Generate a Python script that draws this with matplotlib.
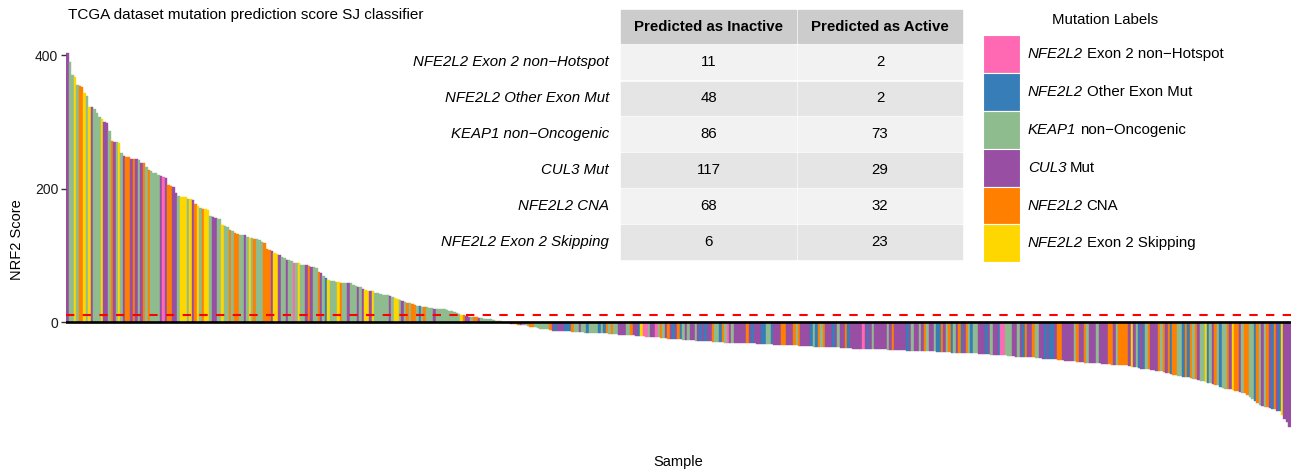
import matplotlib
matplotlib.use("Agg")
import matplotlib.pyplot as plt
from matplotlib.patches import Rectangle

plt.rcParams["font.family"] = ["Liberation Sans", "DejaVu Sans"]

W, H = 1293, 473

# --- data: NRF2 score per sample, sorted ---
scores_pos = [
    404, 390, 370, 367, 355, 354, 353, 343, 339, 323,
    323, 320, 313, 308, 304, 300, 299, 286, 271, 270,
    270, 268, 253, 249, 248, 247, 245, 245, 244, 243,
    239, 238, 233, 228, 227, 224, 223, 221, 219, 218,
    216, 205, 204, 203, 193, 189, 188, 188, 187, 185,
    184, 183, 177, 174, 171, 170, 169, 168, 159, 158,
    156, 155, 155, 145, 144, 143, 138, 136, 133, 132,
    130, 130, 130, 127, 126, 126, 125, 125, 123, 120,
    118, 110, 108, 106, 103, 102, 101, 97, 96, 93,
    93, 91, 89, 89, 88, 86, 85, 85, 84, 83,
    83, 81, 75, 73, 69, 66, 63, 62, 61, 60,
    60, 59, 59, 59, 58, 58, 56, 54, 53, 52,
    50, 48, 47, 47, 46, 44, 43, 42, 41, 40,
    40, 39, 38, 36, 35, 33, 31, 30, 29, 28,
    27, 26, 24, 24, 23, 23, 22, 21, 21, 20,
    20, 19, 19, 19, 18, 17, 16, 15, 14, 12,
    11, 10, 9, 8, 7, 7, 7, 6, 6, 5,
    5, 4,
]
scores_mid1 = [
    4, 3, 2, 2, 1, -1, -1, -2,
    -3, -3, -3, -4, -4, -4, -5, -6, -7, -7, -8,
    -9, -10, -10, -10, -11, -12, -13, -13, -13, -14,
    -14, -14, -14, -14, -15, -15, -15, -15, -15, -16,
    -16, -16, -16, -16, -17, -17, -17, -17, -17, -18,
    -18, -18, -18, -19, -19, -19, -20, -20, -20, -20,
    -21, -21, -21, -21, -22, -22, -22, -23, -23, -23,
    -24, -24, -24, -25, -25, -25, -26, -26, -26, -27, -27, -27,
]
scores_mid2 = [
    -27, -27, -28, -28, -28, -29, -29, -29, -29, -30,
    -30, -30, -30, -30, -31, -31, -31, -31, -31, -31,
    -32, -32, -32, -32, -32, -32, -32, -33, -33, -33,
    -33, -33, -33, -33, -34, -34, -34, -34, -34, -35,
    -35, -35, -35, -35, -36, -36, -36, -36, -36, -36,
    -37, -37, -37, -37, -37, -38, -38, -38, -38, -38,
    -38, -39, -39, -39, -39, -39, -40, -40, -40, -40,
    -40, -40, -41, -41, -41, -41, -41, -41, -41, -41, -42, -42,
]
scores_mid3 = [
    -42, -42, -42, -42, -42, -42, -43, -43, -43, -43,
    -43, -43, -43, -44, -44, -44, -44, -44, -45, -45,
    -45, -45, -45, -45, -46, -46, -46, -46, -46, -46,
    -47, -47, -47, -47, -47, -48, -48, -48, -48, -48,
    -49, -49, -49, -49, -50, -50, -50, -51, -51, -51,
    -52, -52, -52, -52, -53, -53, -53, -53, -54, -54,
    -54, -55, -55, -55, -56, -56, -56, -57, -57, -57,
    -58, -58, -59, -59, -59, -60, -60, -60, -61, -61, -61,
]
scores_tail = [
    -61, -62, -62, -62, -63, -63, -63, -63, -64, -64, -64, -64, -64, -65,
    -65, -66, -67, -67, -68, -69, -70, -70, -71, -71, -72, -72, -73, -73,
    -74, -75, -76, -77, -78, -79, -80, -81, -81, -82, -83, -83, -84,
    -85, -86, -87, -88, -89, -90, -91, -92, -93, -94, -95, -97, -99, -100,
    -101, -101, -102, -103, -104, -105, -106, -107, -110, -113, -116, -119, -122,
    -124, -126, -127, -128, -129, -130, -131, -133, -134, -140, -145, -150, -157,
]

# mutation label per bar: P pink, B blue, G KEAP1, U CUL3, O CNA, Y skipping
labels_pos = ("UGGYGOOYGY" "UGGGYUUGOU" "GYGUOOUOUG" "UOGOGGGGUP" "UOOUUGYYYG"
              "YUOYGOYYGU" "UGGYGGOGOO" "GGUGYGOGGG" "OOOUYYUGGU" "GGPGYGGUOU"
              "GGOUGBYGGG" "YOGGUGGGUG" "UYYUYGGGGG" "GUGYYGUGOG" "OOGBGOGGGU"
              "GGGGGGGGGG" "YOUUGOOUGG" "GG")
labels_mid1 = ("GGGOGGGG" "UOOOBPGGOO" "GGGGGGOUBU" "UUBBBOGGUG" "GBGGGGBGBO"
               "GOGGUUUGGO" "UUBYPPGUUP" "GOGUOUBUOB" "GUG")
labels_mid2 = ("UUGUBUBUUO" "GGBOGPUGUU" "UUUOUBUUUB" "BGGBUUUOOU" "UUOGOUUUUB"
               "GBOGOUUUBU" "GUUOBUUUUU" "PUBUGUUUUU" "GU")
labels_mid3 = ("OUUUUUBUGU" "UGUOGUUGBB" "OUGOBGUOBU" "OGBGGUUUBU" "GUUBPPGGGU"
               "UGUBOUUOGG" "UUBUBBUOOU" "UUUUGOUUOG" "U")
labels_tail = ("UUGUUUUOOU" "GOOOOUYUGB" "UBGOUUUOGO" "UOBOOGGBOB" "OGOUGGYBGU"
               "OGBGGOUYOO" "UGOOGGBOGU" "GOUBOUBYUU" "U")

categories = ["P", "B", "G", "U", "O", "Y"]
category_names = [
    ("NFE2L2", "Exon 2 non\u2212Hotspot"),
    ("NFE2L2", "Other Exon Mut"),
    ("KEAP1", "non\u2212Oncogenic"),
    ("CUL3", "Mut"),
    ("NFE2L2", "CNA"),
    ("NFE2L2", "Exon 2 Skipping"),
]
category_colors = ["#FF69B4", "#377EB8", "#8FBC8F", "#984EA3", "#FF7F00", "#FFD700"]

pred_inactive = [11, 48, 86, 117, 68, 6]
pred_active = [2, 2, 73, 29, 32, 23]
threshold = 10

scores = scores_pos + scores_mid1 + scores_mid2 + scores_mid3 + scores_tail
labels = labels_pos + labels_mid1 + labels_mid2 + labels_mid3 + labels_tail
n = min(len(scores), len(labels))
scores = scores[:n]
labels = labels[:n]
cmap = dict(zip(categories, category_colors))
bar_colors = [cmap[c] for c in labels]

FS = 10.8


def fx(px):
    return px / W


def fy(py):
    return 1 - py / H


def box(l, t, r, b, **kw):
    fig.patches.append(Rectangle((fx(l), fy(b)), fx(r) - fx(l), fy(t) - fy(b),
                                 transform=fig.transFigure, zorder=1, **kw))


fig = plt.figure(figsize=(W / 100, H / 100), dpi=100)
ax = fig.add_axes([fx(66), fy(445.5), fx(1291) - fx(66), fy(34) - fy(445.5)])

ax.bar(range(n), scores, width=1.0, color=bar_colors, edgecolor=bar_colors,
       linewidth=0.3)
ax.axhline(0, color="black", linewidth=1.9, zorder=3)
ax.axhline(threshold, color="red", linewidth=1.5, linestyle=(0, (4, 4)), zorder=3)

ax.set_xlim(-0.6, n - 0.4)
ax.set_ylim(-185, 432)
ax.set_yticks([0, 200, 400])
ax.tick_params(axis="y", length=3.5, width=1, color="#333333", labelsize=10,
               labelcolor="#1a1a1a", pad=2)
ax.set_xticks([])
for s in ax.spines.values():
    s.set_visible(False)
ax.set_ylabel("NRF2 Score", fontsize=10.5, labelpad=8)

fig.text(fx(678), fy(462), "Sample", fontsize=10.5, ha="center", va="center")
fig.text(fx(68), fy(15), "TCGA dataset mutation prediction score SJ classifier",
         fontsize=11, ha="left", va="center")

# --- table (gridExtra style) ---
col_edges = [(621, 796), (798, 962)]
col_mid = [(l + r) / 2 for l, r in col_edges]
for (l, r) in col_edges:
    box(l, 10, r, 43, color="#cccccc")
fig.text(fx(col_mid[0]), fy(27), "Predicted as Inactive", fontsize=FS, fontweight="bold",
         ha="center", va="center")
fig.text(fx(col_mid[1]), fy(27), "Predicted as Active", fontsize=FS, fontweight="bold",
         ha="center", va="center")
for k, (gene, rest) in enumerate(category_names):
    top = 45.5 + 36 * k
    bot = top + 33.8
    cy = (top + bot) / 2
    fill = "#f2f2f2" if k % 2 == 0 else "#e5e5e5"
    for (l, r) in col_edges:
        box(l, top, r, bot, color=fill)
    fig.text(fx(609), fy(cy), f"{gene} {rest}", fontsize=FS, style="italic",
             ha="right", va="center")
    fig.text(fx(col_mid[0]), fy(cy), str(pred_inactive[k]), fontsize=FS,
             ha="center", va="center")
    fig.text(fx(col_mid[1]), fy(cy), str(pred_active[k]), fontsize=FS,
             ha="center", va="center")

# --- legend: italic gene name followed by plain text ---
renderer = fig.canvas.get_renderer()
fig.text(fx(1105), fy(20), "Mutation Labels", fontsize=FS, ha="center", va="center")
for k, (gene, rest) in enumerate(category_names):
    top = 35.5 + 37.8 * k
    box(983, top, 1020, top + 37.8, facecolor=category_colors[k], edgecolor="white",
        linewidth=0.8)
    t_gene = fig.text(fx(1028), fy(top + 18.9), gene, fontsize=FS, style="italic",
                      ha="left", va="center")
    x_end = t_gene.get_window_extent(renderer).x1
    fig.text(fx(x_end + 3.5), fy(top + 18.9), rest, fontsize=FS, ha="left", va="center")

fig.savefig("out.png", dpi=100)
